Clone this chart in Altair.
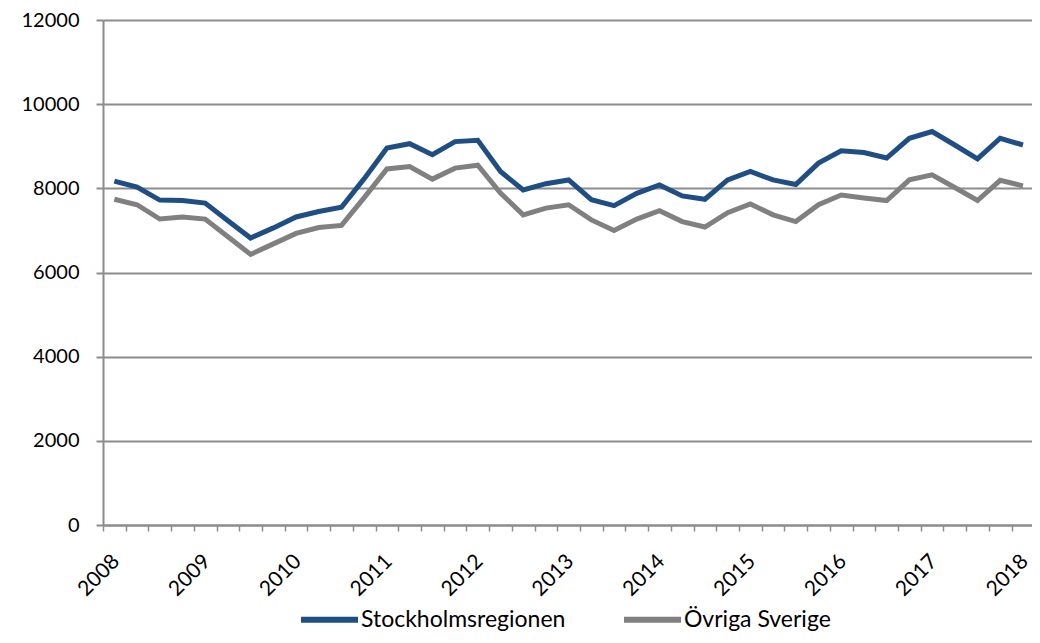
import json
import altair as alt
import pandas as pd

years = ["2008", "2009", "2010", "2011", "2012", "2013", "2014", "2015", "2016", "2017", "2018"]
quarters = [f"{y} K{q}" for y in years[:-1] for q in range(1, 5)] + ["2018 K1"]

stockholm = [8170, 8030, 7720, 7710, 7650, 7230, 6820, 7060, 7320, 7450,
             7550, 8230, 8960, 9060, 8800, 9110, 9140, 8400, 7960, 8110,
             8200, 7730, 7590, 7880, 8080, 7820, 7740, 8200, 8400, 8200,
             8090, 8600, 8890, 8850, 8720, 9190, 9350, 9030, 8700, 9190,
             9030]
ovriga = [7740, 7610, 7270, 7320, 7270, 6850, 6430, 6680, 6930, 7070,
          7120, 7780, 8460, 8520, 8220, 8480, 8550, 7890, 7370, 7530,
          7610, 7250, 7000, 7270, 7470, 7210, 7080, 7420, 7630, 7370,
          7210, 7610, 7840, 7770, 7710, 8200, 8320, 8020, 7710, 8190,
          8060]

series_names = ["Stockholmsregionen", "Övriga Sverige"]
series_colors = ["#1f4e84", "#808080"]

rows = []
for name, vals in zip(series_names, [stockholm, ovriga]):
    for i, (q, v) in enumerate(zip(quarters, vals)):
        rows.append({"idx": i, "kvartal": q, "serie": name, "värde": v})
df = pd.DataFrame(rows)

FONT = "Lato"
AX = "#8c8c8c"

label_expr = f"datum.value % 4 == 0 ? {json.dumps(years)}[datum.value / 4] : ''"

chart = alt.Chart(df).mark_line(strokeWidth=5, strokeJoin="miter").encode(
    x=alt.X("idx:Q",
            scale=alt.Scale(domain=[-0.5, 40.4], nice=False, zero=False),
            axis=alt.Axis(values=list(range(0, 41)), labelExpr=label_expr,
                          labelAngle=-45, labelAlign="right", labelBaseline="middle",
                          labelOffset=13, tickOffset=-11.4, tickSize=6, tickColor=AX,
                          tickWidth=1.5, labelPadding=27, labelFontSize=21,
                          labelFont=FONT, labelColor="#000000", labelOverlap=False,
                          domainColor=AX, domainWidth=2, grid=False, title=None)),
    y=alt.Y("värde:Q",
            scale=alt.Scale(domain=[0, 12000], nice=False),
            axis=alt.Axis(values=[0, 2000, 4000, 6000, 8000, 10000, 12000],
                          format="d", tickSize=7, tickColor=AX, tickWidth=2,
                          labelPadding=17, labelFontSize=20, labelFont=FONT,
                          labelColor="#000000", domainColor=AX, domainWidth=2,
                          grid=True, gridColor=AX, gridWidth=2, title=None)),
    color=alt.Color("serie:N",
                    scale=alt.Scale(domain=series_names, range=series_colors),
                    legend=alt.Legend(orient="none", legendX=195, legendY=568,
                                      direction="horizontal", title=None,
                                      symbolType="stroke", symbolSize=3249,
                                      symbolStrokeWidth=6, labelFontSize=23,
                                      labelFont=FONT, labelColor="#000000",
                                      labelLimit=400, labelOffset=0,
                                      columnPadding=46)),
    order="idx:Q",
).properties(
    width=929, height=505,
    autosize=alt.AutoSizeParams(type="none"),
    padding={"left": 95, "top": 12, "right": 0, "bottom": 110},
).configure_view(fill="#f1f1f1", stroke=None).configure(background="#ffffff")

chart.save("out.html", embed_options={"renderer": "svg", "actions": False})
